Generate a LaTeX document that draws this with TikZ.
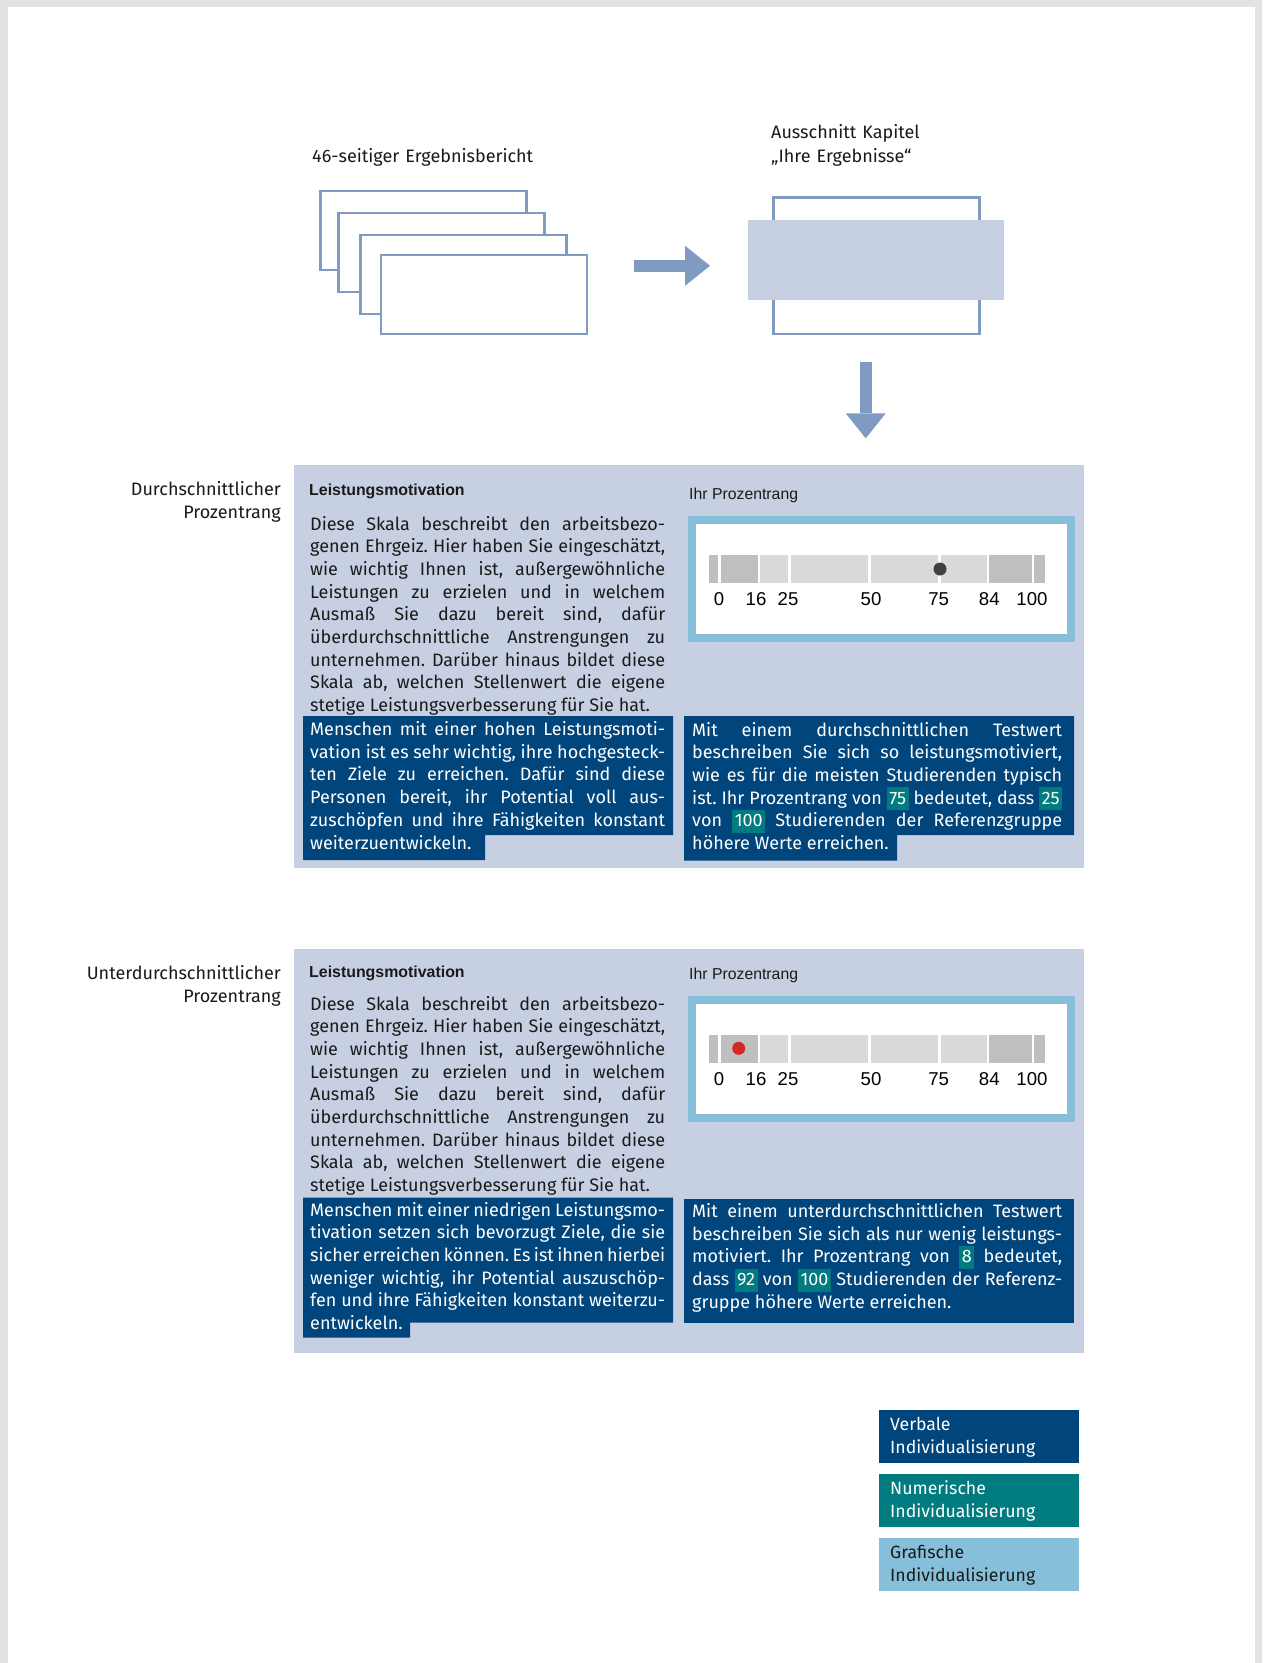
\documentclass[tikz,border=0pt]{standalone}
\usepackage{fontspec}
\setmainfont{Fira Sans}
\newfontfamily\arialfont{Liberation Sans}
\usetikzlibrary{
    arrows.meta,
    positioning
}
\frenchspacing
\definecolor{panelbg}{RGB}{199,208,226}
\definecolor{arrowblue}{RGB}{127,155,194}
\definecolor{verbblue}{RGB}{0,69,124}
\definecolor{numteal}{RGB}{0,123,128}
\definecolor{graphblue}{RGB}{134,191,217}
\definecolor{barmid}{RGB}{191,191,191}
\definecolor{barlight}{RGB}{217,217,217}
\definecolor{dotgrey}{RGB}{64,64,64}
\definecolor{dotred}{RGB}{211,38,38}
\definecolor{inkblack}{RGB}{26,26,26}
\definecolor{shadowgrey}{RGB}{226,226,226}
\newcommand\bodyset{\fontsize{18pt}{22.7pt}\selectfont\frenchspacing\tolerance=9999\hyphenpenalty=10000\exhyphenpenalty=10000\lineskiplimit=-20pt\relax}
\newcommand\numbox[1]{{\fboxsep=0pt\colorbox{numteal}{\rule[-6pt]{0pt}{22.7pt}\hspace{2.5pt}#1\hspace{2.5pt}}}}
\tikzset{
    pagebox/.style={draw=arrowblue, line width=2.5pt, fill=white, inner sep=0pt, outer sep=0pt, minimum width=206pt, minimum height=79pt},
    focusbox/.style={fill=panelbg, inner sep=0pt, outer sep=0pt, minimum width=255.6pt, minimum height=79.7pt},
    blockarrow/.style={draw=arrowblue, line width=12pt, -{Triangle[width=40pt, length=25pt, line width=0pt]}},
    panelbox/.style={fill=panelbg, inner sep=0pt, outer sep=0pt, minimum width=790pt},
    scaleframe/.style={draw=graphblue, fill=white, line width=8pt, inner sep=0pt, outer sep=0pt, minimum width=379.3pt, minimum height=117.7pt},
    dotmark/.style={circle, inner sep=0pt, minimum size=13pt},
    headtext/.style={anchor=base west, inner sep=0pt, text=inkblack, text width=240pt, align=left, font=\fontsize{18pt}{24.4pt}\selectfont},
    sidelabel/.style={text width=240pt, align=right, anchor=base east, inner sep=0pt, text=inkblack, font=\fontsize{18pt}{23pt}\selectfont},
    scaletitle/.style={anchor=base west, inner sep=0pt, text=inkblack, font=\arialfont\bfseries\fontsize{15.9pt}{18pt}\selectfont},
    rankhead/.style={anchor=base west, inner sep=0pt, text=inkblack, font=\arialfont\fontsize{15.8pt}{18pt}\selectfont},
    scalenum/.style={anchor=base, inner sep=0pt, text=black, font=\arialfont\fontsize{18.6pt}{20pt}\selectfont},
    bodytext/.style={anchor=base west, inner sep=0pt, text width=355pt, align=justify, text=inkblack, font=\bodyset},
    verbtext/.style={bodytext, text=white},
    numtext/.style={bodytext, text width=370pt, text=white},
    legendbox/.style={inner sep=0pt, outer sep=0pt, minimum width=200pt, minimum height=53pt},
    legendtext/.style={anchor=base west, inner sep=0pt, text width=190pt, align=left, font=\fontsize{17.7pt}{23.5pt}\selectfont}
}

\begin{document}
\begin{tikzpicture}[x=1pt, y=-1pt]
    \useasboundingbox (0,0) rectangle (1262,1663);
    \fill[shadowgrey] (0,0) rectangle (1262,1663);
    \fill[white] (8,7) rectangle (1255,1663);

    \node[headtext] (lblReport) at (312,162.7) {46-seitiger Ergebnisbericht};
    \node[headtext] (lblExcerpt) at (771,138.3) {Ausschnitt Kapitel\\„Ihre Ergebnisse“};

    \node[pagebox] (r1) at (423.25,230.5) {};
    \node[pagebox] (r2) at (441.5,252.5) {};
    \node[pagebox] (r3) at (463.5,274.5) {};
    \node[pagebox] (r4) at (484,294.5) {};
    \node[pagebox, minimum height=136.5pt] (rpage) at (876.5,265.75) {};
    \node[focusbox] (focus) at (875.8,259.85) {};

    \node[panelbox, minimum height=403pt] (panelA) at (689,666.5) {};
    \node[panelbox, minimum height=404pt] (panelB) at (689,1151) {};

    \draw[blockarrow, shorten <=47pt, shorten >=38pt] (r4.east |- rpage.west) -- (focus.west |- rpage.west);
    \draw[blockarrow, shorten <=27.7pt, shorten >=26.7pt] ([xshift=-10.8pt]rpage.south) -- ([xshift=-10.8pt]rpage.south |- panelA.north);

    \node[sidelabel] (sideA) at (281,495.5) {Durchschnittlicher\\Prozentrang};
    \node[sidelabel] (sideB) at (281,979.6) {Unterdurchschnittlicher\\Prozentrang};

    \node[scaletitle] (titleA) at (309,495) {Leistungsmotivation};
    \node[scaletitle] (titleB) at (309,977) {Leistungsmotivation};
    \node[rankhead] (rankA) at (689,499) {Ihr Prozentrang};
    \node[rankhead] (rankB) at (689,979.3) {Ihr Prozentrang};

    \node[scaleframe] (frameA) at (881.35,578.85) {};
    \node[scaleframe] (frameB) at (881.35,1058.85) {};
    \foreach \a/\b/\c in {709/718.3/barmid, 720.7/757.7/barmid, 760.3/788/barlight, 790.7/868.3/barlight,
                          871/938.3/barlight, 940.7/986.7/barlight, 989.3/1031.7/barmid, 1034.3/1045/barmid} {
        \fill[\c] (\a,555) rectangle (\b,582.7);
        \fill[\c] (\a,1035) rectangle (\b,1062.7);
    }
    \foreach \v/\x in {0/719, 16/756, 25/788, 50/871, 75/938.7, 84/989.3, 100/1032} {
        \node[scalenum] (sa\v) at (\x,605.7) {\v};
        \node[scalenum] (sb\v) at (\x,1085.7) {\v};
    }
    \node[dotmark, fill=dotgrey] (markA) at (940,569) {};
    \node[dotmark, fill=dotred] (markB) at (738.7,1048.3) {};

    \fill[verbblue] (303,716) -- (673,716) -- (673,835) -- (485,835) -- (485,860) -- (303,860) -- cycle;
    \fill[verbblue] (684,716) -- (1074,716) -- (1074,835) -- (897,835) -- (897,860.7) -- (684,860.7) -- cycle;
    \fill[verbblue] (303,1197.7) -- (673,1197.7) -- (673,1322.7) -- (410,1322.7) -- (410,1337.7) -- (303,1337.7) -- cycle;
    \fill[verbblue] (684,1199) rectangle (1074,1322.7);

    \node[bodytext] (bodyA) at (310,530) {\parfillskip=0pt
        Diese Skala beschreibt den arbeitsbezo-\linebreak
        genen Ehrgeiz. Hier haben Sie eingeschätzt,\linebreak
        wie wichtig Ihnen ist, außergewöhnliche\linebreak
        Leistungen zu erzielen und in welchem\linebreak
        Ausmaß Sie dazu bereit sind, dafür\linebreak
        überdurchschnittliche Anstrengungen zu\linebreak
        unternehmen. Darüber hinaus bildet diese\linebreak
        Skala ab, welchen Stellenwert die eigene\linebreak
        stetige Leistungsverbesserung für Sie hat.};
    \node[verbtext] (verbA) at (310,735.5) {
        Menschen mit einer hohen Leistungsmoti-\linebreak
        vation ist es sehr wichtig, ihre hochgesteck-\linebreak
        ten Ziele zu erreichen. Dafür sind diese\linebreak
        Personen bereit, ihr Potential voll aus-\linebreak
        zuschöpfen und ihre Fähigkeiten konstant\linebreak
        weiterzuentwickeln.};
    \node[numtext] (numA) at (692,736) {
        Mit einem durchschnittlichen Testwert\linebreak
        beschreiben Sie sich so leistungsmotiviert,\linebreak
        wie es für die meisten Studierenden typisch\linebreak
        ist. Ihr Prozentrang von \numbox{75} bedeutet, dass \numbox{25}\linebreak
        von \numbox{100} Studierenden der Referenzgruppe\linebreak
        höhere Werte erreichen.};

    \node[bodytext] (bodyB) at (310,1010) {\parfillskip=0pt
        Diese Skala beschreibt den arbeitsbezo-\linebreak
        genen Ehrgeiz. Hier haben Sie eingeschätzt,\linebreak
        wie wichtig Ihnen ist, außergewöhnliche\linebreak
        Leistungen zu erzielen und in welchem\linebreak
        Ausmaß Sie dazu bereit sind, dafür\linebreak
        überdurchschnittliche Anstrengungen zu\linebreak
        unternehmen. Darüber hinaus bildet diese\linebreak
        Skala ab, welchen Stellenwert die eigene\linebreak
        stetige Leistungsverbesserung für Sie hat.};
    \node[verbtext] (verbB) at (310,1216) {
        Menschen mit einer niedrigen Leistungsmo-\linebreak
        tivation setzen sich bevorzugt Ziele, die sie\linebreak
        sicher erreichen können. Es ist ihnen hierbei\linebreak
        weniger wichtig, ihr Potential auszuschöp-\linebreak
        fen und ihre Fähigkeiten konstant weiterzu-\linebreak
        entwickeln.};
    \node[numtext] (numB) at (692,1217.5) {
        Mit einem unterdurchschnittlichen Testwert\linebreak
        beschreiben Sie sich als nur wenig leistungs-\linebreak
        motiviert. Ihr Prozentrang von \numbox{8} bedeutet,\linebreak
        dass \numbox{92} von \numbox{100} Studierenden der Referenz-\linebreak
        gruppe höhere Werte erreichen.};

    \node[legendbox, fill=verbblue] (lgVerb) at (979,1436.5) {};
    \node[legendbox, fill=numteal] (lgNum) at (979,1500.5) {};
    \node[legendbox, fill=graphblue] (lgGraph) at (979,1564.5) {};
    \node[legendtext, text=white] (lgVerbT) at ([shift={(11,20)}]lgVerb.north west) {Verbale\\Individualisierung};
    \node[legendtext, text=white] (lgNumT) at ([shift={(11,20)}]lgNum.north west) {Numerische\\Individualisierung};
    \node[legendtext, text=inkblack] (lgGraphT) at ([shift={(11,20)}]lgGraph.north west) {Grafische\\Individualisierung};
\end{tikzpicture}
\end{document}
